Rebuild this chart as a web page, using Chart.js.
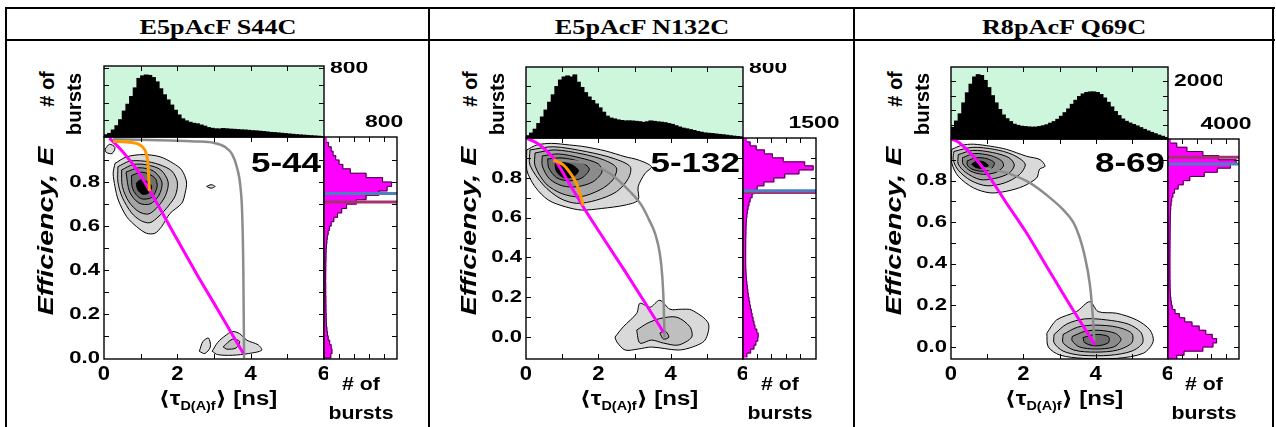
<!DOCTYPE html>
<html>
<head>
<meta charset="utf-8">
<title>FRET efficiency vs donor lifetime</title>
<script src="https://cdn.jsdelivr.net/npm/chart.js@4.4.1/dist/chart.umd.min.js"></script>
<style>
  html, body { margin: 0; padding: 0; background: #fff; }
  #fig { position: relative; width: 1276px; height: 427px; overflow: hidden; }
  #fig canvas { position: absolute; }
  .rule { position: absolute; background: #000; }
  .lbl { position: absolute; white-space: nowrap; line-height: 1; font-weight: bold; z-index: 5;
         font-family: "Liberation Sans", "DejaVu Sans", Arial, sans-serif; color: #000; }
  .head { font-family: "Liberation Serif", "Times New Roman", serif; font-size: 22px; }
  .tag { font-size: 28px; }
  .ttl { font-size: 20px; }
  .ttl sub { font-size: 12px; vertical-align: -5px; line-height: 0; }
  .ytl { font-size: 22px; font-style: italic; }
  .cnt { font-size: 19px; }
  .cnt2 { font-size: 21px; }
</style>
</head>
<body>
<div id="fig"></div>
<script>
// ---- data ---------------------------------------------------------------

// lifetime bins (ns) of the top histograms
var tauBins = [0.05, 0.15, 0.25, 0.35, 0.45, 0.55, 0.65, 0.75, 0.85, 0.95,
               1.05, 1.15, 1.25, 1.35, 1.45, 1.55, 1.65, 1.75, 1.85, 1.95,
               2.05, 2.15, 2.25, 2.35, 2.45, 2.55, 2.65, 2.75, 2.85, 2.95,
               3.05, 3.15, 3.25, 3.35, 3.45, 3.55, 3.65, 3.75, 3.85, 3.95,
               4.05, 4.15, 4.25, 4.35, 4.45, 4.55, 4.65, 4.75, 4.85, 4.95,
               5.05, 5.15, 5.25, 5.35, 5.45, 5.55, 5.65, 5.75, 5.85, 5.95];

var tauHist1 = [25, 40, 80, 130, 200, 300, 380, 470, 570, 680,
                710, 720, 715, 690, 640, 560, 490, 430, 370, 310,
                255, 210, 186, 170, 158, 152, 138, 125, 108, 100,
                94, 92, 98, 94, 90, 88, 85, 82, 80, 76,
                72, 70, 66, 62, 58, 52, 50, 46, 42, 38,
                34, 30, 26, 23, 20, 17, 14, 11, 8, 5];
var tauHist2 = [25, 55, 100, 165, 240, 320, 410, 495, 590, 665,
                700, 712, 700, 724, 640, 580, 520, 470, 430, 390,
                345, 295, 250, 228, 218, 207, 200, 195, 196, 194,
                190, 186, 178, 185, 195, 190, 184, 180, 175, 165,
                155, 140, 125, 112, 104, 95, 85, 74, 65, 57,
                53, 50, 45, 40, 36, 31, 25, 20, 16, 12];
var tauHist3 = [400, 620, 870, 1250, 1600, 1900, 2150, 2230, 2200, 2030,
                1780, 1500, 1250, 1020, 830, 700, 600, 510, 470, 440,
                428, 415, 408, 410, 428, 455, 490, 545, 600, 680,
                785, 910, 1040, 1200, 1340, 1470, 1560, 1610, 1630, 1632,
                1610, 1540, 1420, 1270, 1110, 950, 810, 690, 610, 550,
                500, 450, 390, 330, 275, 225, 180, 130, 90, 50];

// efficiency bins of the side histograms
var effBins = [-0.09, -0.07, -0.05, -0.03, -0.01, 0.01, 0.03, 0.05, 0.07, 0.09,
               0.11, 0.13, 0.15, 0.17, 0.19, 0.21, 0.23, 0.25, 0.27, 0.29,
               0.31, 0.33, 0.35, 0.37, 0.39, 0.41, 0.43, 0.45, 0.47, 0.49,
               0.51, 0.53, 0.55, 0.57, 0.59, 0.61, 0.63, 0.65, 0.67, 0.69,
               0.71, 0.73, 0.75, 0.77, 0.79, 0.81, 0.83, 0.85, 0.87, 0.89,
               0.91, 0.93, 0.95, 0.97, 0.99];
var effBinWidth = 0.02;

var effHist1 = [0, 0, 0, 0, 0, 90, 105, 95, 75, 55,
                45, 38, 32, 30, 28, 26, 25, 24, 24, 22,
                22, 22, 21, 22, 22, 23, 23, 25, 26, 28,
                32, 37, 44, 55, 72, 95, 130, 180, 235, 300,
                430, 560, 730, 840, 900, 780, 560, 350, 250, 200,
                155, 120, 95, 60, 30];
var effHist2 = [80, 160, 230, 270, 310, 320, 290, 250, 230, 210,
                190, 175, 155, 140, 125, 110, 100, 90, 80, 72,
                65, 60, 56, 55, 55, 55, 55, 55, 56, 56,
                58, 60, 62, 66, 72, 80, 90, 105, 125, 150,
                190, 230, 300, 440, 650, 880, 1180, 1480, 1300, 850,
                620, 450, 280, 150, 70];
var effHist3 = [0, 0, 600, 1100, 2400, 3100, 3350, 3050, 2600, 2150,
                1650, 1150, 780, 480, 290, 230, 190, 165, 150, 140,
                135, 130, 130, 128, 128, 128, 128, 130, 130, 132,
                135, 138, 140, 145, 150, 155, 160, 170, 185, 210,
                250, 330, 450, 700, 1050, 1500, 2500, 3400, 4300, 4700,
                3500, 2400, 1300, 600, 150];

// mean efficiencies marked on the side histograms: [blue, purple]
var meanEff1 = [0.748, 0.709];
var meanEff2 = [0.735, 0.726];
var meanEff3 = [0.880, 0.912];

// FRET lines [tau, E]
var dynLine1 = [[0.25, 0.985], [0.6, 0.982], [0.9, 0.975], [1.05, 0.96], [1.15, 0.93], [1.2, 0.88], [1.22, 0.82], [1.24, 0.76]];
var fretLine1 = [[0.15, 1.0], [0.5, 0.94], [0.9, 0.855], [1.25, 0.76], [1.8, 0.597], [2.5, 0.39], [3.1, 0.22], [3.8, 0.02]];
var staticLine1 = [[0.25, 0.995], [1.5, 0.99], [2.5, 0.985], [3.0, 0.978], [3.3, 0.96], [3.5, 0.925], [3.62, 0.87], [3.72, 0.78], [3.77, 0.65], [3.8, 0.4], [3.82, 0.0]];

var dynLine2 = [[0.76, 0.89], [1.03, 0.865], [1.2, 0.83], [1.31, 0.8], [1.42, 0.76], [1.5, 0.715], [1.58, 0.66]];
var fretLine2 = [[0.0, 1.0], [0.3, 0.975], [0.6, 0.93], [0.8, 0.89], [1.2, 0.77], [1.58, 0.655], [2.2, 0.48], [2.74, 0.33], [3.3, 0.17], [3.8, 0.025]];
var staticLine2 = [[0.76, 0.89], [1.2, 0.885], [1.68, 0.873], [2.32, 0.822], [2.88, 0.73], [3.2, 0.66], [3.4, 0.59], [3.57, 0.52], [3.7, 0.42], [3.77, 0.3], [3.81, 0.15], [3.83, 0.0]];

var fretLine3 = [[0.0, 1.0], [0.2, 0.985], [0.43, 0.95], [0.89, 0.86], [1.54, 0.69], [2.09, 0.548], [2.6, 0.40], [3.2, 0.227], [3.98, 0.01]];
var staticLine3 = [[0.89, 0.861], [1.54, 0.837], [2.18, 0.789], [2.74, 0.717], [3.1, 0.66], [3.38, 0.6], [3.55, 0.53], [3.68, 0.45], [3.84, 0.3], [3.92, 0.15], [3.96, 0.03]];

// 2D burst density contours, level 1 = outermost
var contours1 = [
  { lv: 1, pts: [[0.30, 0.885], [0.62, 0.915], [1.07, 0.925], [1.53, 0.915], [1.89, 0.885], [2.12, 0.855], [2.25, 0.80], [2.21, 0.748], [2.12, 0.703], [1.80, 0.657], [1.57, 0.597], [1.39, 0.567], [1.16, 0.567], [0.89, 0.597], [0.62, 0.642], [0.39, 0.718], [0.30, 0.779], [0.25, 0.84]] },
  { lv: 1, pts: [[0.03, 0.95], [0.15, 0.972], [0.30, 0.957], [0.22, 0.93], [0.06, 0.935]] },
  { lv: 1, pts: [[2.80, 0.78], [2.92, 0.788], [3.03, 0.78], [2.92, 0.772]] },
  { lv: 1, pts: [[2.6, 0.03], [2.7, 0.075], [2.85, 0.09], [2.9, 0.05], [2.75, 0.02]] },
  { lv: 1, pts: [[2.95, 0.03], [3.1, 0.07], [3.3, 0.1], [3.5, 0.12], [3.7, 0.11], [3.9, 0.08], [4.2, 0.06], [4.3, 0.035], [3.95, 0.02], [3.5, 0.012], [3.1, 0.015]] },
  { lv: 2, pts: [[3.25, 0.05], [3.5, 0.085], [3.7, 0.075], [3.6, 0.045], [3.35, 0.04]] },
  { lv: 2, pts: [[0.38, 0.87], [0.70, 0.895], [1.10, 0.895], [1.50, 0.88], [1.85, 0.85], [2.00, 0.80], [1.95, 0.74], [1.75, 0.69], [1.50, 0.645], [1.25, 0.615], [1.00, 0.625], [0.75, 0.66], [0.50, 0.73], [0.38, 0.80]] },
  { lv: 3, pts: [[0.48, 0.855], [0.80, 0.88], [1.18, 0.878], [1.55, 0.855], [1.75, 0.80], [1.68, 0.74], [1.48, 0.69], [1.22, 0.655], [0.95, 0.665], [0.68, 0.71], [0.50, 0.78]] },
  { lv: 4, pts: [[0.60, 0.845], [0.95, 0.865], [1.35, 0.85], [1.58, 0.80], [1.50, 0.74], [1.25, 0.70], [0.95, 0.705], [0.70, 0.755]] },
  { lv: 5, pts: [[0.75, 0.83], [1.05, 0.845], [1.38, 0.82], [1.45, 0.78], [1.30, 0.73], [1.00, 0.725], [0.78, 0.77]] },
  { lv: 6, pts: [[0.88, 0.795], [1.00, 0.81], [1.20, 0.80], [1.30, 0.78], [1.22, 0.75], [1.05, 0.745], [0.92, 0.765]] }
];
var contours2 = [
  { lv: 1, pts: [[0.02, 0.94], [0.30, 0.965], [0.71, 0.973], [1.20, 0.965], [1.63, 0.956], [2.20, 0.935], [2.74, 0.906], [3.10, 0.89], [3.47, 0.856], [3.29, 0.822], [3.10, 0.755], [3.10, 0.688], [2.74, 0.663], [2.09, 0.646], [1.54, 0.638], [1.08, 0.655], [0.62, 0.688], [0.25, 0.755], [0.02, 0.84]] },
  { lv: 1, pts: [[2.46, 0.0], [2.69, 0.052], [3.06, 0.119], [3.15, 0.17], [3.43, 0.15], [3.7, 0.185], [3.98, 0.14], [4.3, 0.14], [4.58, 0.136], [5.04, 0.07], [4.95, -0.015], [4.6, -0.05], [4.21, -0.065], [3.47, -0.05], [3.1, -0.06], [2.74, -0.065], [2.51, -0.024]] },
  { lv: 2, pts: [[0.11, 0.94], [0.76, 0.956], [1.68, 0.931], [2.41, 0.898], [2.88, 0.856], [2.83, 0.797], [2.5, 0.73], [1.95, 0.688], [1.4, 0.672], [0.94, 0.697], [0.48, 0.764], [0.11, 0.864]] },
  { lv: 2, pts: [[3.06, 0.035], [3.34, 0.068], [3.7, 0.093], [4.17, 0.10], [4.53, 0.052], [4.58, 0.0], [4.21, -0.04], [3.8, -0.03], [3.47, -0.015], [3.15, -0.03]] },
  { lv: 3, pts: [[0.25, 0.925], [0.8, 0.94], [1.55, 0.92], [2.15, 0.89], [2.5, 0.85], [2.4, 0.79], [2.05, 0.74], [1.5, 0.705], [1.0, 0.72], [0.55, 0.77], [0.25, 0.86]] },
  { lv: 3, pts: [[3.7, 0.02], [3.85, 0.03], [3.95, 0.0], [3.8, -0.01]] },
  { lv: 4, pts: [[0.45, 0.91], [0.9, 0.92], [1.5, 0.9], [2.0, 0.87], [2.1, 0.83], [1.85, 0.78], [1.4, 0.755], [1.0, 0.76], [0.65, 0.795], [0.45, 0.86]] },
  { lv: 5, pts: [[0.6, 0.895], [1.0, 0.9], [1.5, 0.88], [1.75, 0.845], [1.55, 0.8], [1.2, 0.785], [0.85, 0.8], [0.63, 0.85]] },
  { lv: 6, pts: [[0.8, 0.87], [1.0, 0.878], [1.3, 0.862], [1.45, 0.835], [1.3, 0.805], [1.05, 0.8], [0.85, 0.83]] }
];
var contours3 = [
  { lv: 1, pts: [[0.02, 0.95], [0.3, 0.97], [0.62, 0.975], [1.1, 0.965], [1.54, 0.95], [2.09, 0.917], [2.46, 0.901], [2.6, 0.869], [2.45, 0.855], [2.37, 0.813], [2.0, 0.773], [1.54, 0.749], [1.08, 0.741], [0.62, 0.765], [0.2, 0.821], [0.02, 0.885]] },
  { lv: 1, pts: [[2.65, 0.066], [2.92, 0.13], [3.47, 0.17], [3.84, 0.218], [4.07, 0.17], [4.58, 0.162], [5.13, 0.13], [5.5, 0.082], [5.59, 0.026], [5.32, -0.03], [4.58, -0.055], [3.66, -0.055], [3.01, -0.039], [2.69, 0.0]] },
  { lv: 2, pts: [[0.08, 0.94], [0.6, 0.96], [1.2, 0.95], [1.7, 0.925], [2.05, 0.88], [1.9, 0.83], [1.5, 0.79], [1.0, 0.775], [0.55, 0.8], [0.2, 0.85], [0.06, 0.9]] },
  { lv: 2, pts: [[2.85, 0.06], [3.2, 0.11], [3.7, 0.135], [4.3, 0.13], [4.9, 0.11], [5.25, 0.07], [5.3, 0.02], [5.0, -0.02], [4.4, -0.04], [3.6, -0.04], [3.1, -0.02], [2.85, 0.02]] },
  { lv: 3, pts: [[0.2, 0.925], [0.6, 0.945], [1.15, 0.935], [1.6, 0.91], [1.75, 0.875], [1.6, 0.835], [1.2, 0.81], [0.8, 0.805], [0.4, 0.84], [0.2, 0.88]] },
  { lv: 3, pts: [[3.1, 0.06], [3.5, 0.095], [4.0, 0.105], [4.6, 0.095], [5.0, 0.065], [5.0, 0.02], [4.6, -0.015], [4.0, -0.025], [3.4, -0.015], [3.1, 0.02]] },
  { lv: 4, pts: [[0.32, 0.91], [0.65, 0.93], [1.1, 0.92], [1.4, 0.895], [1.45, 0.87], [1.25, 0.84], [0.9, 0.83], [0.55, 0.845], [0.33, 0.88]] },
  { lv: 4, pts: [[3.35, 0.05], [3.7, 0.075], [4.1, 0.08], [4.55, 0.065], [4.7, 0.035], [4.5, 0.0], [4.0, -0.01], [3.55, 0.0], [3.35, 0.03]] },
  { lv: 5, pts: [[0.45, 0.895], [0.7, 0.91], [1.0, 0.905], [1.2, 0.885], [1.1, 0.855], [0.85, 0.845], [0.58, 0.855], [0.45, 0.875]] },
  { lv: 5, pts: [[3.65, 0.045], [4.0, 0.06], [4.35, 0.05], [4.35, 0.02], [4.0, 0.005], [3.7, 0.02]] },
  { lv: 5, pts: [[3.85, 0.035], [4.0, 0.045], [4.15, 0.035], [4.0, 0.022]] },
  { lv: 6, pts: [[0.57, 0.878], [0.7, 0.893], [0.9, 0.89], [1.03, 0.872], [0.9, 0.86], [0.7, 0.862]] }
];

// headers, sample tags, tick labels
var headers = ['E5pAcF S44C', 'E5pAcF N132C', 'R8pAcF Q69C'];
var tags = ['5-44', '5-132', '8-69'];
var tauLabels = ['0', '2', '4', '6'];
var effLabels = ['0.0', '0.2', '0.4', '0.6', '0.8'];
var topMaxLabels = ['800', '800', '2000'];
var sideMaxLabels = ['800', '1500', '4000'];

var tauTicks = [1, 2, 3, 4, 5];
var effTicks = [-0.1, 0, 0.1, 0.2, 0.3, 0.4, 0.5, 0.6, 0.7, 0.8, 0.9, 1.0];
var topTicks = [[200, 400, 600, 800], [200, 400, 600, 800], [500, 1000, 1500, 2000]];
var sideTicks = [[200, 400, 600, 800], [300, 600, 900, 1200, 1500], [1000, 2000, 3000, 4000]];

// ---- layout -------------------------------------------------------------

var geo = [
  { col: 6,   left: 104, w: 220, sideW: 73, histTop: 66, top: 137, bottom: 359, eMin: -0.005, eMax: 1.005, topMax: 826, sideMax: 973 },
  { col: 429, left: 526, w: 217, sideW: 73, histTop: 67, top: 138, bottom: 359, eMin: -0.11,  eMax: 1.0,   topMax: 816, sideMax: 1540 },
  { col: 854, left: 951, w: 217, sideW: 71, histTop: 67, top: 139, bottom: 359, eMin: -0.058, eMax: 1.0,   topMax: 2500, sideMax: 4900 }
];

var panels = [
  { tau: tauHist1, eff: effHist1, mean: meanEff1, dyn: dynLine1, fret: fretLine1, stat: staticLine1, cont: contours1 },
  { tau: tauHist2, eff: effHist2, mean: meanEff2, dyn: dynLine2, fret: fretLine2, stat: staticLine2, cont: contours2 },
  { tau: tauHist3, eff: effHist3, mean: meanEff3, dyn: null,     fret: fretLine3, stat: staticLine3, cont: contours3 }
];

var shades = ['#d9d9d9', '#bfbfbf', '#a5a5a5', '#8b8b8b', '#6f6f6f', '#000000'];
var FONT = '"Liberation Sans", Arial, sans-serif';

Chart.defaults.animation = false;
Chart.defaults.font.family = FONT;
Chart.defaults.plugins.legend.display = false;
Chart.defaults.plugins.tooltip.enabled = false;

var fig = document.getElementById('fig');

function drawText(ctx, text, x, y, font, k, align) {
  ctx.save();
  ctx.translate(x, y);
  ctx.scale(k, 1);
  ctx.font = font;
  ctx.textAlign = align;
  ctx.textBaseline = 'middle';
  ctx.fillStyle = '#000';
  ctx.fillText(text, 0, 0);
  ctx.restore();
}

// box, inward ticks and tick labels of one plot
function framePlugin(o) {
  return {
    id: 'frame',
    beforeDatasetsDraw: function(chart) {
      if (!o.bg) return;
      var a = chart.chartArea, ctx = chart.ctx;
      ctx.save();
      ctx.fillStyle = o.bg;
      ctx.fillRect(a.left, a.top, a.right - a.left, a.bottom - a.top);
      ctx.restore();
    },
    afterDatasetsDraw: function(chart) {
      var ctx = chart.ctx, a = chart.chartArea;
      var sx = chart.scales.x, sy = chart.scales.y;
      var t = o.ticks || {}, len = 5;
      ctx.save();
      ctx.strokeStyle = '#000';
      ctx.lineWidth = 1;
      ctx.beginPath();
      var px = function(v) { var x = sx.getPixelForValue(v); return (x > a.left + 2 && x < a.right - 2) ? Math.round(x) + 0.5 : null; };
      var py = function(v) { var y = sy.getPixelForValue(v); return (y > a.top + 2 && y < a.bottom - 2) ? Math.round(y) + 0.5 : null; };
      (t.top || []).forEach(function(v) { var x = px(v); if (x !== null) { ctx.moveTo(x, a.top); ctx.lineTo(x, a.top + len); } });
      (t.bottom || []).forEach(function(v) { var x = px(v); if (x !== null) { ctx.moveTo(x, a.bottom); ctx.lineTo(x, a.bottom - len); } });
      (t.left || []).forEach(function(v) { var y = py(v); if (y !== null) { ctx.moveTo(a.left, y); ctx.lineTo(a.left + len, y); } });
      (t.right || []).forEach(function(v) { var y = py(v); if (y !== null) { ctx.moveTo(a.right, y); ctx.lineTo(a.right - len, y); } });
      ctx.stroke();
      ctx.lineWidth = 1.4;
      ctx.strokeRect(a.left, a.top, a.right - a.left, a.bottom - a.top);
      (o.labels || []).forEach(function(l) {
        l.items.forEach(function(s) {
          var v = Number(s), x, y, align = 'center';
          if (l.side === 'left') { x = a.left - l.gap; y = sy.getPixelForValue(v); align = 'right'; }
          else if (l.side === 'right') { x = a.right + l.gap; y = sy.getPixelForValue(v); align = 'left'; }
          else if (l.side === 'bottom') { x = sx.getPixelForValue(v); y = a.bottom + l.gap; }
          else { x = sx.getPixelForValue(v); y = a.top - l.gap; }
          drawText(ctx, s, x, y, l.font, l.k, align);
        });
      });
      ctx.restore();
    }
  };
}

function makeCanvas(x, y, w, h) {
  var c = document.createElement('canvas');
  c.width = w; c.height = h;
  c.style.left = x + 'px'; c.style.top = y + 'px';
  c.style.width = w + 'px'; c.style.height = h + 'px';
  fig.appendChild(c);
  return c;
}

function put(html, x, y, cls, k, rot, anchor) {
  var d = document.createElement('div');
  d.className = 'lbl ' + cls;
  d.innerHTML = html;
  d.style.left = x + 'px';
  d.style.top = y + 'px';
  if (anchor === 'right') {
    d.style.transformOrigin = '100% 50%';
    d.style.transform = 'translate(-100%, -50%) scaleX(' + k + ')';
  } else {
    d.style.transform = 'translate(-50%, -50%)' + (rot ? ' rotate(-90deg)' : '') + ' scaleX(' + k + ')';
  }
  fig.appendChild(d);
}

function rule(x, y, w, h) {
  var d = document.createElement('div');
  d.className = 'rule';
  d.style.left = x + 'px'; d.style.top = y + 'px';
  d.style.width = w + 'px'; d.style.height = h + 'px';
  fig.appendChild(d);
}

function xy(pts) { return pts.map(function(p) { return { x: p[0], y: p[1] }; }); }

function curve(pts, color, w) {
  return { data: xy(pts), borderColor: color, borderWidth: w, fill: false, pointRadius: 0,
           cubicInterpolationMode: 'monotone', order: 0 };
}

// ---- table frame --------------------------------------------------------
rule(5, 7, 1270, 2);
rule(5, 39, 1270, 2);
[5, 428, 853, 1272].forEach(function(x) { rule(x, 7, 2, 420); });
headers.forEach(function(h, i) {
  var c = i === 0 ? 217.5 : i === 1 ? 641.5 : 1064;
  put(h, c, 26.5, 'head', 1.19);
});

// ---- panels -------------------------------------------------------------
geo.forEach(function(g, i) {
  var p = panels[i];
  var mainH = g.bottom - g.top;
  var big = 'bold 17px ' + FONT;

  // lifetime histogram on top
  new Chart(makeCanvas(g.left - 4, g.histTop - 4, g.w + 58, g.top - g.histTop + 8), {
    type: 'bar',
    data: { datasets: [{
      data: tauBins.map(function(t, j) { return { x: t, y: p.tau[j] }; }),
      backgroundColor: '#000', borderWidth: 0, barPercentage: 1, categoryPercentage: 1, inflateAmount: 0.6
    }] },
    options: {
      responsive: false, devicePixelRatio: 1,
      layout: { padding: { left: 4, top: 4, right: 54, bottom: 4 } },
      scales: {
        x: { type: 'linear', min: 0, max: 6, offset: false, display: false },
        y: { type: 'linear', min: 0, max: g.topMax, display: false }
      }
    },
    plugins: [framePlugin({
      bg: '#cdf6dd',
      ticks: { top: tauTicks, left: topTicks[i], right: topTicks[i] },
      labels: [{ side: 'right', items: [topMaxLabels[i]], font: big, k: 1.35, gap: 6 }]
    })]
  });

  // E vs lifetime with contours and FRET lines
  var sets = [];
  if (p.dyn) sets.push(curve(p.dyn, '#ff9900', 3));
  sets.push(curve(p.fret, '#ff00ff', 3));
  sets.push(curve(p.stat, '#8c8c8c', 2.5));
  p.cont.forEach(function(c) {
    sets.push({
      data: xy(c.pts.concat([c.pts[0]])),
      borderColor: '#000', borderWidth: 1, backgroundColor: shades[c.lv - 1],
      fill: 'shape', tension: 0.3, pointRadius: 0, order: 10 - c.lv
    });
  });
  new Chart(makeCanvas(g.left - 52, g.top - 4, g.w + 56, mainH + 34), {
    type: 'line',
    data: { datasets: sets },
    options: {
      responsive: false, devicePixelRatio: 1,
      layout: { padding: { left: 52, top: 4, right: 4, bottom: 30 } },
      scales: {
        x: { type: 'linear', min: 0, max: 6, display: false },
        y: { type: 'linear', min: g.eMin, max: g.eMax, display: false }
      }
    },
    plugins: [framePlugin({
      ticks: { top: tauTicks, bottom: tauTicks, left: effTicks, right: effTicks },
      labels: [
        { side: 'left', items: effLabels, font: big, k: 1.3, gap: 4 },
        { side: 'bottom', items: tauLabels, font: 'bold 21px ' + FONT, k: 1.05, gap: 15 }
      ]
    })]
  });

  // efficiency histogram on the right; the outline steps along the lower bin edges
  var outline = effBins.map(function(e, j) { return { x: p.eff[j], y: e - effBinWidth / 2 }; });
  var sideSets = [
    { type: 'line', indexAxis: 'x', data: [{ x: 0, y: p.mean[0] }, { x: g.sideMax, y: p.mean[0] }],
      borderColor: '#4f7fc0', borderWidth: 3, pointRadius: 0, fill: false, order: 0 },
    { type: 'line', indexAxis: 'x', data: [{ x: 0, y: p.mean[1] }, { x: g.sideMax, y: p.mean[1] }],
      borderColor: '#a5326f', borderWidth: 3, pointRadius: 0, fill: false, order: 0 },
    { type: 'line', indexAxis: 'x', data: outline, stepped: 'after',
      borderColor: '#3a0a3a', borderWidth: 1, pointRadius: 0, fill: false, order: 1 },
    { type: 'bar', data: effBins.map(function(e, j) { return { x: p.eff[j], y: e }; }),
      backgroundColor: '#ff00ff', borderWidth: 0, barPercentage: 1, categoryPercentage: 1, inflateAmount: 0.6, order: 2 }
  ];
  new Chart(makeCanvas(g.left + g.w - 4, g.top - 26, g.sideW + 34, mainH + 30), {
    type: 'bar',
    data: { datasets: sideSets },
    options: {
      responsive: false, devicePixelRatio: 1, indexAxis: 'y',
      layout: { padding: { left: 4, top: 26, right: 30, bottom: 4 } },
      scales: {
        x: { type: 'linear', min: 0, max: g.sideMax, offset: false, display: false },
        y: { type: 'linear', min: g.eMin, max: g.eMax, offset: false, display: false }
      }
    },
    plugins: [framePlugin({
      ticks: { top: sideTicks[i], bottom: sideTicks[i], right: effTicks },
      labels: [{ side: 'top', items: [sideMaxLabels[i]], font: big, k: 1.35, gap: 15 }]
    })]
  });

  // titles
  var sideC = g.left + g.w + g.sideW / 2;
  put('# of', g.col + 40, 89, 'cnt2', 0.95, true);
  put('bursts', g.col + 67, 104, 'cnt2', 0.97, true);
  put('Efficiency, E', g.col + 40, 231, 'ytl', 1.3, true);
  put('\u27E8\u03C4<sub>D(A)f</sub>\u27E9 [ns]', g.left + g.w / 2 + 4, 398, 'ttl', 1.2);
  put('# of', sideC, 383, 'cnt', 1.12);
  put('bursts', sideC, 412, 'cnt', 1.12);
  put(tags[i], g.left + g.w - 3, 163, 'tag', 1.25, false, 'right');
});
</script>
</body>
</html>
